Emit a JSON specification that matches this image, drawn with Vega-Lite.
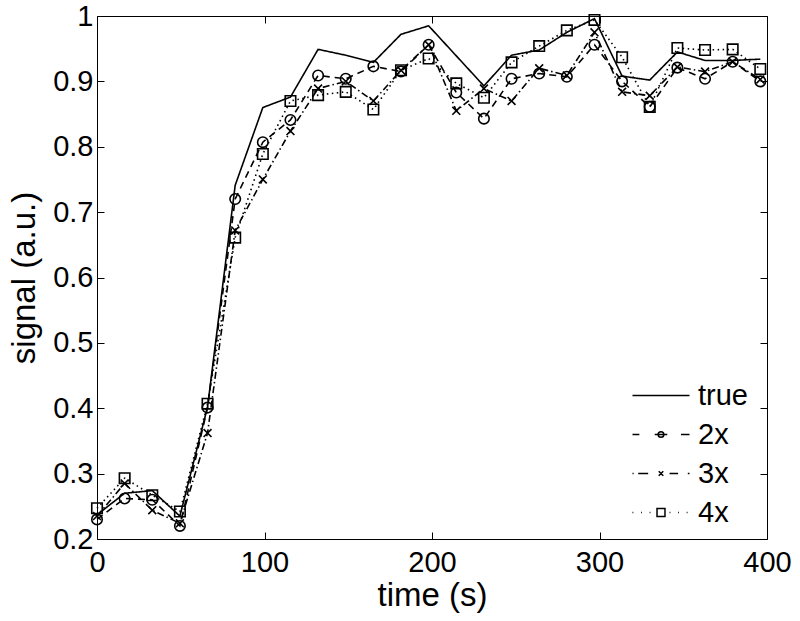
{
  "$schema": "https://vega.github.io/schema/vega-lite/v6.json",
  "width": 670,
  "height": 523,
  "autosize": {"type": "none"},
  "padding": {"left": 97, "top": 16, "right": 33, "bottom": 82},
  "background": "white",
  "config": {
    "view": {"stroke": "#000", "strokeWidth": 1},
    "font": "Liberation Sans",
    "axis": {
      "grid": false,
      "domain": false,
      "labelFlush": false,
      "tickColor": "#000",
      "tickSize": -7,
      "tickWidth": 1,
      "labelFont": "Liberation Sans",
      "labelFontSize": 29,
      "labelColor": "#000",
      "titleFont": "Liberation Sans",
      "titleFontSize": 33,
      "titleFontWeight": "normal",
      "titleColor": "#000"
    }
  },
  "data": {
    "values": [
      {"t": 0, "s": "true", "v": 0.237}, {"t": 16.5, "s": "true", "v": 0.27}, {"t": 33, "s": "true", "v": 0.274}, {"t": 49.5, "s": "true", "v": 0.235}, {"t": 66, "s": "true", "v": 0.402},
      {"t": 82.5, "s": "true", "v": 0.741}, {"t": 99, "s": "true", "v": 0.86}, {"t": 115.5, "s": "true", "v": 0.876}, {"t": 132, "s": "true", "v": 0.949}, {"t": 148.5, "s": "true", "v": 0.94},
      {"t": 165, "s": "true", "v": 0.929}, {"t": 181.5, "s": "true", "v": 0.972}, {"t": 198, "s": "true", "v": 0.985}, {"t": 214.5, "s": "true", "v": 0.939}, {"t": 231, "s": "true", "v": 0.893},
      {"t": 247.5, "s": "true", "v": 0.94}, {"t": 264, "s": "true", "v": 0.948}, {"t": 280.5, "s": "true", "v": 0.975}, {"t": 297, "s": "true", "v": 0.996}, {"t": 313.5, "s": "true", "v": 0.908},
      {"t": 330, "s": "true", "v": 0.902}, {"t": 346.5, "s": "true", "v": 0.945}, {"t": 363, "s": "true", "v": 0.932}, {"t": 379.5, "s": "true", "v": 0.932}, {"t": 396, "s": "true", "v": 0.934},

      {"t": 0, "s": "2x", "v": 0.23}, {"t": 16.5, "s": "2x", "v": 0.262}, {"t": 33, "s": "2x", "v": 0.26}, {"t": 49.5, "s": "2x", "v": 0.22}, {"t": 66, "s": "2x", "v": 0.401},
      {"t": 82.5, "s": "2x", "v": 0.72}, {"t": 99, "s": "2x", "v": 0.807}, {"t": 115.5, "s": "2x", "v": 0.841}, {"t": 132, "s": "2x", "v": 0.909}, {"t": 148.5, "s": "2x", "v": 0.904},
      {"t": 165, "s": "2x", "v": 0.923}, {"t": 181.5, "s": "2x", "v": 0.915}, {"t": 198, "s": "2x", "v": 0.956}, {"t": 214.5, "s": "2x", "v": 0.883}, {"t": 231, "s": "2x", "v": 0.843},
      {"t": 247.5, "s": "2x", "v": 0.904}, {"t": 264, "s": "2x", "v": 0.912}, {"t": 280.5, "s": "2x", "v": 0.907}, {"t": 297, "s": "2x", "v": 0.956}, {"t": 313.5, "s": "2x", "v": 0.9},
      {"t": 330, "s": "2x", "v": 0.861}, {"t": 346.5, "s": "2x", "v": 0.921}, {"t": 363, "s": "2x", "v": 0.904}, {"t": 379.5, "s": "2x", "v": 0.93}, {"t": 396, "s": "2x", "v": 0.9},

      {"t": 0, "s": "3x", "v": 0.235}, {"t": 16.5, "s": "3x", "v": 0.285}, {"t": 33, "s": "3x", "v": 0.244}, {"t": 49.5, "s": "3x", "v": 0.224}, {"t": 66, "s": "3x", "v": 0.362},
      {"t": 82.5, "s": "3x", "v": 0.672}, {"t": 99, "s": "3x", "v": 0.75}, {"t": 115.5, "s": "3x", "v": 0.824}, {"t": 132, "s": "3x", "v": 0.889}, {"t": 148.5, "s": "3x", "v": 0.9},
      {"t": 165, "s": "3x", "v": 0.87}, {"t": 181.5, "s": "3x", "v": 0.917}, {"t": 198, "s": "3x", "v": 0.956}, {"t": 214.5, "s": "3x", "v": 0.855}, {"t": 231, "s": "3x", "v": 0.889},
      {"t": 247.5, "s": "3x", "v": 0.87}, {"t": 264, "s": "3x", "v": 0.92}, {"t": 280.5, "s": "3x", "v": 0.909}, {"t": 297, "s": "3x", "v": 0.975}, {"t": 313.5, "s": "3x", "v": 0.884},
      {"t": 330, "s": "3x", "v": 0.878}, {"t": 346.5, "s": "3x", "v": 0.922}, {"t": 363, "s": "3x", "v": 0.915}, {"t": 379.5, "s": "3x", "v": 0.93}, {"t": 396, "s": "3x", "v": 0.903},

      {"t": 0, "s": "4x", "v": 0.247}, {"t": 16.5, "s": "4x", "v": 0.293}, {"t": 33, "s": "4x", "v": 0.267}, {"t": 49.5, "s": "4x", "v": 0.242}, {"t": 66, "s": "4x", "v": 0.407},
      {"t": 82.5, "s": "4x", "v": 0.661}, {"t": 99, "s": "4x", "v": 0.789}, {"t": 115.5, "s": "4x", "v": 0.87}, {"t": 132, "s": "4x", "v": 0.879}, {"t": 148.5, "s": "4x", "v": 0.884},
      {"t": 165, "s": "4x", "v": 0.857}, {"t": 181.5, "s": "4x", "v": 0.917}, {"t": 198, "s": "4x", "v": 0.935}, {"t": 214.5, "s": "4x", "v": 0.897}, {"t": 231, "s": "4x", "v": 0.875},
      {"t": 247.5, "s": "4x", "v": 0.929}, {"t": 264, "s": "4x", "v": 0.954}, {"t": 280.5, "s": "4x", "v": 0.978}, {"t": 297, "s": "4x", "v": 0.994}, {"t": 313.5, "s": "4x", "v": 0.937},
      {"t": 330, "s": "4x", "v": 0.861}, {"t": 346.5, "s": "4x", "v": 0.951}, {"t": 363, "s": "4x", "v": 0.948}, {"t": 379.5, "s": "4x", "v": 0.949}, {"t": 396, "s": "4x", "v": 0.919}
    ]
  },
  "layer": [
    {
      "mark": {"type": "line", "color": "#000", "strokeWidth": 1.6},
      "encoding": {
        "x": {"field": "t", "type": "quantitative", "scale": {"domain": [0, 400]},
              "axis": {"orient": "bottom", "values": [0, 100, 200, 300, 400], "format": "d", "title": "time (s)", "labelPadding": 16, "titlePadding": 2}},
        "y": {"field": "v", "type": "quantitative", "scale": {"domain": [0.2, 1]},
              "axis": {"orient": "left", "values": [0.2, 0.3, 0.4, 0.5, 0.6, 0.7, 0.8, 0.9, 1], "format": ".1~f", "title": "signal (a.u.)", "labelPadding": 11, "titlePadding": 11}},
        "strokeDash": {"field": "s", "type": "nominal",
                       "scale": {"domain": ["true", "2x", "3x", "4x"], "range": [[1, 0], [7, 5], [7, 3, 1.5, 3], [1.5, 3.5]]},
                       "legend": null}
      }
    },
    {
      "transform": [{"filter": "datum.s !== 'true'"}],
      "mark": {"type": "point", "filled": false, "color": "#000", "strokeWidth": 1.6, "size": 110, "opacity": 1},
      "encoding": {
        "x": {"field": "t", "type": "quantitative", "axis": null},
        "y": {"field": "v", "type": "quantitative", "axis": null},
        "shape": {"field": "s", "type": "nominal",
                  "scale": {"domain": ["2x", "3x", "4x"], "range": ["circle", "M-0.75,-0.75L0.75,0.75M-0.75,0.75L0.75,-0.75", "square"]},
                  "legend": null}
      }
    },
    {
      "transform": [{"filter": "false"}],
      "mark": {"type": "point", "filled": false, "color": "#000", "strokeWidth": 1.5, "opacity": 1},
      "encoding": {
        "x": {"field": "t", "type": "quantitative",
              "axis": {"orient": "top", "values": [0, 100, 200, 300, 400], "labels": false, "title": null}},
        "y": {"field": "v", "type": "quantitative",
              "axis": {"orient": "right", "values": [0.2, 0.3, 0.4, 0.5, 0.6, 0.7, 0.8, 0.9, 1], "labels": false, "title": null}},
        "shape": {"field": "s", "type": "nominal",
                  "scale": {"domain": ["true", "2x", "3x", "4x"],
                            "range": [
                              "M-1,0L1,0",
                              "M-1,0L-0.76,0M-0.22,0L0.22,0M0.7,0L1,0M0.1,0A0.1,0.1,0,1,1,-0.1,0A0.1,0.1,0,1,1,0.1,0",
                              "M-1,0L-0.96,0M-0.8,0L-0.45,0M0.3,0L0.6,0M0.94,0L1,0M-0.08,-0.08L0.08,0.08M-0.08,0.08L0.08,-0.08",
                              "M-1,0L-0.97,0M-0.7,0L-0.67,0M-0.4,0L-0.37,0M0.3,0L0.33,0M0.6,0L0.63,0M0.9,0L0.93,0M-0.14,-0.14L0.14,-0.14L0.14,0.14L-0.14,0.14Z"
                            ]},
                  "legend": {
                    "orient": "none", "legendX": 534.5, "legendY": 360, "title": null,
                    "symbolSize": 3249, "symbolOffset": 0, "labelOffset": 7.5, "padding": 0,
                    "rowPadding": 0, "clipHeight": 39,
                    "labelFont": "Liberation Sans", "labelFontSize": 29, "labelColor": "#000",
                    "symbolStrokeWidth": 1.5, "symbolStrokeColor": "#000", "symbolFillColor": "transparent"
                  }}
      }
    }
  ],
  "resolve": {"scale": {"shape": "independent"}, "axis": {"x": "independent", "y": "independent"}}
}
